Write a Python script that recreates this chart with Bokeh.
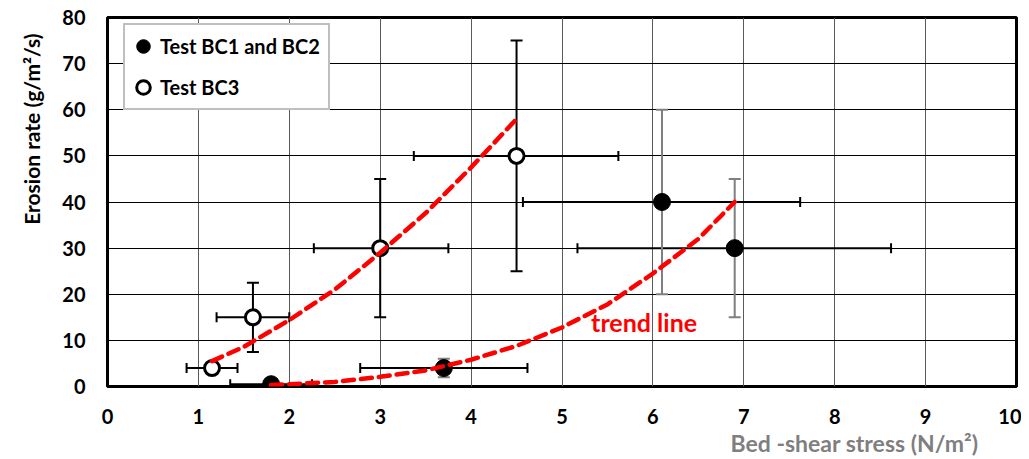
from bokeh.plotting import figure
from bokeh.models import (Range1d, ColumnDataSource, Whisker, TeeHead, Label,
                          Legend, LegendItem, FixedTicker, Title)
from bokeh.embed import file_html
from bokeh.resources import INLINE

# ---- data ----
bc12_x = [1.8, 3.7, 6.1, 6.9]
bc12_y = [0.5, 4.0, 40.0, 30.0]
bc12_xlo = [1.35, 2.78, 4.57, 5.17]
bc12_xhi = [2.25, 4.62, 7.62, 8.62]
bc12_ey_x = [3.7, 6.1, 6.9]
bc12_ylo = [2.0, 20.0, 15.0]
bc12_yhi = [6.0, 60.0, 45.0]

bc3_x = [1.15, 1.6, 3.0, 4.5]
bc3_y = [4.0, 15.0, 30.0, 50.0]
bc3_xlo = [0.87, 1.2, 2.27, 3.37]
bc3_xhi = [1.43, 2.0, 3.75, 5.62]
bc3_ylo = [3.0, 7.5, 15.0, 25.0]
bc3_yhi = [5.0, 22.5, 45.0, 75.0]

trend_bc3_x = [1.15, 1.5, 2.0, 2.5, 3.0, 3.5, 4.0, 4.5]
trend_bc3_y = [5.5, 8.6, 14.4, 21.0, 29.0, 37.6, 47.5, 58.0]
trend_bc12_x = [1.8, 2.0, 2.5, 3.0, 3.5, 4.0, 4.5, 5.0, 5.5, 6.0, 6.5, 6.9]
trend_bc12_y = [0.3, 0.5, 1.0, 2.1, 3.5, 5.8, 8.8, 12.8, 17.8, 24.5, 32.0, 40.0]

x_ticks = [0, 1, 2, 3, 4, 5, 6, 7, 8, 9, 10]
y_ticks = [0, 10, 20, 30, 40, 50, 60, 70, 80]

FONT = "Lato"

p = figure(width=1021, height=459, output_backend="svg", toolbar_location=None,
           x_range=Range1d(0, 10), y_range=Range1d(0, 80),
           min_border_left=106, min_border_right=5, min_border_top=17,
           min_border_bottom=73)
p.background_fill_color = "white"
p.border_fill_color = "white"
p.outline_line_color = "black"
p.outline_line_width = 3

for ax, ticks in ((p.xaxis[0], x_ticks), (p.yaxis[0], y_ticks)):
    ax.ticker = FixedTicker(ticks=ticks)
    ax.axis_line_color = None
    ax.major_tick_line_color = None
    ax.minor_tick_line_color = None
    ax.major_tick_out = 0
    ax.major_tick_in = 0
    ax.minor_tick_out = 0
    ax.major_label_text_font = FONT
    ax.major_label_text_font_style = "bold"
    ax.major_label_text_font_size = "20px"
    ax.major_label_text_color = "black"
p.xaxis.major_label_standoff = 22
p.yaxis.major_label_standoff = 22

p.xgrid.ticker = FixedTicker(ticks=x_ticks)
p.ygrid.ticker = FixedTicker(ticks=y_ticks)
p.xgrid.grid_line_color = "#5a5a5a"
p.xgrid.grid_line_width = 1
p.ygrid.grid_line_color = "black"
p.ygrid.grid_line_width = 1

# ---- error bars ----
def whisker(src, base, lower, upper, dim, color, size):
    w = Whisker(source=src, base=base, lower=lower, upper=upper, dimension=dim,
                line_color=color, line_width=2,
                upper_head=TeeHead(size=size, line_color=color, line_width=2),
                lower_head=TeeHead(size=size, line_color=color, line_width=2))
    p.add_layout(w)

s12x = ColumnDataSource(dict(y=bc12_y, lo=bc12_xlo, hi=bc12_xhi))
whisker(s12x, "y", "lo", "hi", "width", "black", 10)
s12y = ColumnDataSource(dict(x=bc12_ey_x, lo=bc12_ylo, hi=bc12_yhi))
whisker(s12y, "x", "lo", "hi", "height", "#7f7f7f", 12)
s3x = ColumnDataSource(dict(y=bc3_y, lo=bc3_xlo, hi=bc3_xhi))
whisker(s3x, "y", "lo", "hi", "width", "black", 10)
s3y = ColumnDataSource(dict(x=bc3_x, lo=bc3_ylo, hi=bc3_yhi))
whisker(s3y, "x", "lo", "hi", "height", "black", 12)

# ---- markers ----
r12 = p.scatter(bc12_x, bc12_y, marker="circle", size=17, fill_color="black",
                line_color="black", line_width=1)
r3 = p.scatter(bc3_x, bc3_y, marker="circle", size=15, fill_color="white",
               line_color="black", line_width=3)

# ---- trend lines ----
p.line(trend_bc3_x, trend_bc3_y, line_color="#ff0000", line_width=4.5,
       line_dash="11 7", line_cap="round")
p.line(trend_bc12_x, trend_bc12_y, line_color="#ff0000", line_width=4.5,
       line_dash="11 7", line_cap="round")

p.add_layout(Label(x=5.32, y=13.9, text="trend line", text_color="#ff0000",
                   text_font=FONT, text_font_style="bold",
                   text_font_size="25px", text_align="left",
                   text_baseline="middle"))

# ---- axis labels as offset titles (placed like the original) ----
p.add_layout(Title(text="Bed -shear stress (N/m²)", align="right", offset=38,
                   standoff=0, text_color="#7f7f7f", text_font=FONT,
                   text_font_style="bold", text_font_size="23px"), "below")
p.add_layout(Title(text="Erosion rate (g/m²/s)", align="right", offset=16,
                   standoff=32, text_color="black", text_font=FONT,
                   text_font_style="bold", text_font_size="21px"), "left")

# ---- legend ----
legend = Legend(items=[LegendItem(label="Test BC1 and BC2", renderers=[r12]),
                       LegendItem(label="Test BC3", renderers=[r3])],
                location=(16, 276), orientation="vertical",
                border_line_color="#7f7f7f", border_line_width=2.5,
                background_fill_color="white", background_fill_alpha=1,
                label_text_font=FONT, label_text_font_style="bold",
                label_text_font_size="20px", label_text_color="black",
                glyph_width=34, glyph_height=40, label_height=40,
                label_width=167, label_standoff=0, spacing=1, padding=1,
                margin=0)
p.add_layout(legend, "center")

open("out.html", "w").write(file_html(p, INLINE))
